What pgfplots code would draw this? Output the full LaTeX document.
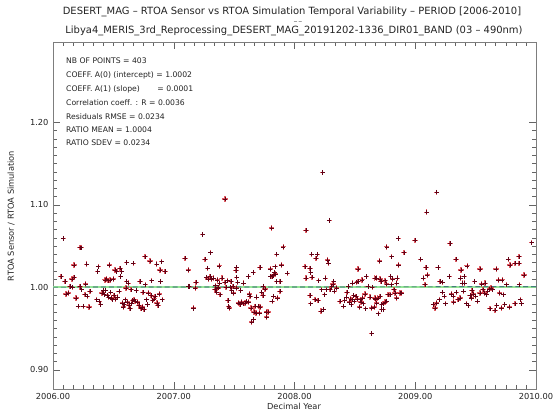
\documentclass[border=0pt]{standalone}
\usepackage{fontspec}
\setmainfont{DejaVu Sans}
\usepackage{pgfplots}
\usepackage{pgfplotstable}
\pgfplotsset{compat=1.18}
\definecolor{axgray}{RGB}{125,125,125}
\definecolor{txt}{RGB}{35,35,35}
\definecolor{ptred}{RGB}{215,40,50}
\definecolor{ptdark}{RGB}{100,0,20}
\definecolor{lgreen}{RGB}{150,230,150}
\definecolor{dteal}{RGB}{25,70,110}

\pgfplotstableread{
x y
2006.066 1.013
2006.086 1.059
2006.099 1.007
2006.108 0.992
2006.127 0.993
2006.141 1.001
2006.157 1.010
2006.163 1.000
2006.174 1.027
2006.174 1.012
2006.190 0.987
2006.210 0.977
2006.224 1.048
2006.232 1.048
2006.224 1.001
2006.237 0.997
2006.251 0.977
2006.265 0.991
2006.271 1.004
2006.279 1.028
2006.284 0.989
2006.298 0.976
2006.306 0.995
2006.362 0.985
2006.370 1.019
2006.375 1.025
2006.384 0.983
2006.395 0.979
2006.405 0.993
2006.418 0.996
2006.425 0.991
2006.431 1.009
2006.437 0.996
2006.445 1.010
2006.452 0.990
2006.455 1.008
2006.462 0.988
2006.467 1.027
2006.472 1.009
2006.478 0.994
2006.485 0.987
2006.492 0.985
2006.500 1.010
2006.505 0.990
2006.513 1.021
2006.520 0.986
2006.527 1.019
2006.535 0.988
2006.548 0.995
2006.555 1.023
2006.560 1.013
2006.569 1.019
2006.575 0.981
2006.582 0.976
2006.590 0.979
2006.598 0.985
2006.604 0.999
2006.610 1.030
2006.610 1.007
2006.617 0.982
2006.624 1.005
2006.630 0.978
2006.638 0.974
2006.645 0.997
2006.652 0.980
2006.665 1.029
2006.660 0.984
2006.672 0.985
2006.680 0.983
2006.690 0.996
2006.700 0.982
2006.712 0.978
2006.720 1.007
2006.728 0.974
2006.740 0.976
2006.745 0.994
2006.752 0.973
2006.762 1.037
2006.765 1.003
2006.775 0.985
2006.783 0.979
2006.790 0.993
2006.803 1.032
2006.810 0.990
2006.818 1.008
2006.825 0.984
2006.835 0.986
2006.845 0.989
2006.858 1.028
2006.862 0.981
2006.870 0.978
2006.880 0.992
2006.886 1.021
2006.890 1.007
2006.900 1.031
2006.905 0.985
2006.928 1.019
2007.093 1.035
2007.121 1.021
2007.121 1.001
2007.126 1.001
2007.162 0.974
2007.165 0.975
2007.179 0.999
2007.184 1.006
2007.239 1.064
2007.259 1.034
2007.270 1.012
2007.281 1.023
2007.285 1.010
2007.300 1.013
2007.305 1.042
2007.315 1.010
2007.330 1.011
2007.340 0.997
2007.345 1.002
2007.355 0.994
2007.360 1.009
2007.365 0.999
2007.369 1.000
2007.377 1.026
2007.380 1.005
2007.384 0.991
2007.400 1.011
2007.424 1.107
2007.425 1.006
2007.432 1.000
2007.445 1.008
2007.450 0.984
2007.455 0.977
2007.460 0.975
2007.468 1.000
2007.475 1.007
2007.480 0.996
2007.490 1.001
2007.495 0.993
2007.520 1.024
2007.515 1.020
2007.522 1.012
2007.520 0.999
2007.530 1.006
2007.535 0.981
2007.548 0.979
2007.555 0.996
2007.560 0.982
2007.575 0.980
2007.578 1.005
2007.590 0.981
2007.600 0.983
2007.618 1.013
2007.620 0.982
2007.625 0.992
2007.632 0.989
2007.640 0.975
2007.646 0.958
2007.659 1.018
2007.660 0.961
2007.665 0.970
2007.672 0.977
2007.680 0.969
2007.686 0.988
2007.700 0.977
2007.710 0.969
2007.714 1.024
2007.715 0.976
2007.728 0.994
2007.740 0.990
2007.742 1.001
2007.755 0.998
2007.768 0.970
2007.770 0.964
2007.780 0.970
2007.800 1.022
2007.801 1.013
2007.811 1.072
2007.812 1.013
2007.815 0.983
2007.825 1.014
2007.826 0.989
2007.835 1.018
2007.840 1.025
2007.845 1.016
2007.852 1.040
2007.852 1.007
2007.860 0.987
2007.880 1.007
2007.880 0.995
2007.893 1.027
2007.907 1.049
2007.940 1.017
2008.087 1.025
2008.095 1.069
2008.095 1.011
2008.128 1.023
2008.128 0.990
2008.134 1.018
2008.134 0.980
2008.142 1.040
2008.145 1.012
2008.170 0.985
2008.178 1.035
2008.189 1.040
2008.195 0.984
2008.200 1.008
2008.220 0.971
2008.225 0.997
2008.233 1.139
2008.240 0.973
2008.250 0.991
2008.255 1.011
2008.265 0.997
2008.275 1.033
2008.282 1.029
2008.288 1.081
2008.295 0.997
2008.308 1.001
2008.320 1.004
2008.325 1.007
2008.330 0.995
2008.350 0.999
2008.378 0.983
2008.405 0.977
2008.415 0.984
2008.430 0.988
2008.435 0.994
2008.445 1.001
2008.455 0.982
2008.465 0.986
2008.470 0.979
2008.475 0.985
2008.480 1.005
2008.490 0.990
2008.495 0.983
2008.508 0.989
2008.515 1.006
2008.520 0.986
2008.525 1.022
2008.525 1.007
2008.540 0.976
2008.545 0.985
2008.550 0.982
2008.560 1.009
2008.565 0.987
2008.570 0.980
2008.585 0.992
2008.590 0.974
2008.595 1.013
2008.610 1.001
2008.625 0.988
2008.639 0.944
2008.639 0.975
2008.645 1.000
2008.660 0.976
2008.665 1.011
2008.666 0.987
2008.670 0.986
2008.680 1.011
2008.680 0.981
2008.690 0.987
2008.694 0.968
2008.705 1.032
2008.708 0.989
2008.708 1.010
2008.716 1.007
2008.722 0.979
2008.722 0.973
2008.735 0.980
2008.735 0.973
2008.749 1.008
2008.750 0.982
2008.763 1.049
2008.763 0.983
2008.763 1.004
2008.775 0.991
2008.791 0.991
2008.796 1.013
2008.804 1.003
2008.805 1.037
2008.813 1.010
2008.825 0.997
2008.832 0.993
2008.846 0.987
2008.846 1.005
2008.851 1.011
2008.860 1.059
2008.862 1.027
2008.873 0.993
2008.887 0.993
2008.907 1.042
2008.998 1.057
2009.045 1.034
2009.067 1.011
2009.080 1.003
2009.090 1.024
2009.094 1.091
2009.100 1.015
2009.150 0.979
2009.163 0.975
2009.177 1.115
2009.178 0.981
2009.190 1.024
2009.200 0.985
2009.205 1.007
2009.225 0.994
2009.228 1.006
2009.240 0.989
2009.250 0.980
2009.282 1.013
2009.288 1.053
2009.300 0.992
2009.315 0.989
2009.318 0.982
2009.337 1.034
2009.340 0.994
2009.355 0.985
2009.370 0.987
2009.375 1.011
2009.380 1.021
2009.390 1.005
2009.400 0.995
2009.405 1.013
2009.410 1.005
2009.425 0.980
2009.430 1.026
2009.440 0.978
2009.455 0.990
2009.465 0.987
2009.470 0.996
2009.480 0.992
2009.492 1.007
2009.500 0.989
2009.515 0.983
2009.535 1.022
2009.535 0.993
2009.550 1.004
2009.560 0.997
2009.575 0.993
2009.578 1.005
2009.590 0.991
2009.600 0.995
2009.615 0.998
2009.620 0.974
2009.628 0.999
2009.640 0.997
2009.660 0.972
2009.670 1.022
2009.675 0.978
2009.688 1.009
2009.700 0.993
2009.715 0.975
2009.720 1.009
2009.730 0.991
2009.740 0.979
2009.755 1.003
2009.770 1.034
2009.780 0.976
2009.785 1.027
2009.825 1.029
2009.825 0.980
2009.860 1.029
2009.860 1.037
2009.862 1.003
2009.870 0.985
2009.880 0.980
2009.900 1.015
2009.964 1.054
}\ratio

\begin{document}
\begin{tikzpicture}
\useasboundingbox (0,0) rectangle (556bp,413bp);
\begin{axis}[
  scale only axis,
  width=483bp, height=347bp,
  at={(53bp,24bp)}, anchor=south west,
  xmin=2006, xmax=2010,
  ymin=0.8767, ymax=1.2973,
  xtick={2006,2007,2008,2009,2010},
  ytick={0.9,1.0,1.1,1.2},
  minor x tick num=11,
  minor y tick num=9,
  tick align=inside,
  major tick length=7bp,
  minor tick length=4bp,
  axis line style={axgray, line width=0.8pt},
  every tick/.style={axgray!80!black, line width=0.5pt},
  /pgf/number format/.cd, fixed, fixed zerofill, precision=2, 1000 sep={}, assume math mode=true,
  /pgfplots/.cd,
  ticklabel style={font=\fontsize{8.3}{9}\selectfont, text=txt},
  xticklabel style={yshift=-0.5bp},
  yticklabel style={xshift=-1bp},
  clip=false,
]
\addplot[only marks, mark=+, mark size=2.7bp, ptred, line width=1.3pt, opacity=0.75] table[x=x,y=y]{\ratio};
\addplot[only marks, mark=+, mark size=2.1bp, ptdark, line width=0.6pt] table[x=x,y=y]{\ratio};
\addplot[lgreen, line width=1.3pt] coordinates {(2006,1.0004) (2010,1.0004)};
\addplot[dteal, line width=0.7pt, dash pattern=on 5pt off 3pt] coordinates {(2006,1.0002) (2010,1.0006)};
\end{axis}
\begin{scope}[every node/.style={text=txt, inner sep=0pt}]
\node[font=\fontsize{10}{11}\selectfont, anchor=base] at (292bp,398bp) {DESERT\_MAG -- RTOA Sensor vs RTOA Simulation Temporal Variability -- PERIOD [2006-2010]};
\node[font=\fontsize{6}{7}\selectfont, anchor=base] at (298bp,392.5bp) {\_ \_};
\node[font=\fontsize{10}{11}\selectfont, anchor=base] at (294bp,379bp) {Libya4\_MERIS\_3rd\_Reprocessing\_DESERT\_MAG\_20191202-1336\_DIR01\_BAND (03 -- 490nm)};
\begin{scope}[every node/.append style={anchor=west, font=\fontsize{7.7}{9}\selectfont}]
\node at (66bp,352bp) {NB OF POINTS = 403};
\node at (66bp,338bp) {COEFF. A(0) (intercept) = 1.0002};
\node at (66bp,324bp) {COEFF. A(1) (slope)\hspace{2.3em}= 0.0001};
\node at (66bp,310bp) {Correlation coeff. : R = 0.0036};
\node at (66bp,296bp) {Residuals RMSE = 0.0234};
\node at (66bp,283bp) {RATIO MEAN = 1.0004};
\node at (66bp,270bp) {RATIO SDEV = 0.0234};
\end{scope}
\node[font=\fontsize{8.3}{9}\selectfont] at (294bp,7bp) {Decimal Year};
\node[font=\fontsize{8.3}{9}\selectfont, rotate=90] at (11bp,197bp) {RTOA Sensor / RTOA Simulation};
\end{scope}
\end{tikzpicture}
\end{document}
